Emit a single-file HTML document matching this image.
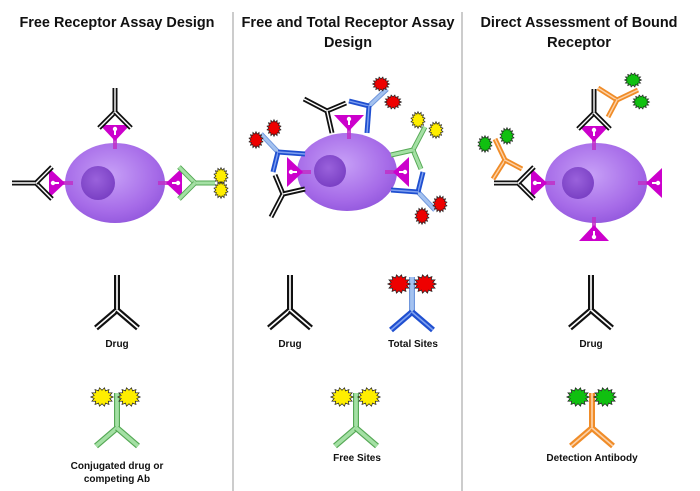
<!DOCTYPE html>
<html><head><meta charset="utf-8"><style>
html,body{margin:0;padding:0;background:#fff;}
svg{display:block;}
text{font-family:"Liberation Sans",sans-serif;font-weight:bold;fill:#111;}
</style></head><body>
<svg id="s" width="700" height="491" viewBox="0 0 700 491" xmlns="http://www.w3.org/2000/svg">
<defs>
<radialGradient id="cell" cx="45%" cy="40%" r="65%">
<stop offset="0" stop-color="#c7a0f7"/><stop offset="0.7" stop-color="#a66be8"/><stop offset="1" stop-color="#9156dc"/>
</radialGradient>
<radialGradient id="nuc" cx="45%" cy="40%" r="60%">
<stop offset="0" stop-color="#9a62dc"/><stop offset="1" stop-color="#7a40c4"/>
</radialGradient>
</defs>
<line x1="233" y1="12" x2="233" y2="491" stroke="#aaa" stroke-width="1.2"/>
<line x1="462" y1="12" x2="462" y2="491" stroke="#aaa" stroke-width="1.2"/>
<text x="117" y="27" font-size="14.5" text-anchor="middle" textLength="195" lengthAdjust="spacingAndGlyphs">Free Receptor Assay Design</text>
<text x="348" y="27" font-size="14.5" text-anchor="middle" textLength="213" lengthAdjust="spacingAndGlyphs">Free and Total Receptor Assay</text>
<text x="348" y="47" font-size="14.5" text-anchor="middle" textLength="48" lengthAdjust="spacingAndGlyphs">Design</text>
<text x="579" y="27" font-size="14.5" text-anchor="middle" textLength="197" lengthAdjust="spacingAndGlyphs">Direct Assessment of Bound</text>
<text x="579" y="47" font-size="14.5" text-anchor="middle" textLength="64" lengthAdjust="spacingAndGlyphs">Receptor</text>

<ellipse cx="115" cy="183" rx="50" ry="40" fill="url(#cell)"/>
<circle cx="98" cy="183" r="17" fill="url(#nuc)"/>
<ellipse cx="347" cy="172" rx="50" ry="39" fill="url(#cell)"/>
<circle cx="330" cy="171" r="16" fill="url(#nuc)"/>
<ellipse cx="596" cy="183" rx="51" ry="40" fill="url(#cell)"/>
<circle cx="578" cy="183" r="16" fill="url(#nuc)"/>

<g id="dyn"></g>

<text x="117" y="347" font-size="10" text-anchor="middle">Drug</text>
<text x="117" y="469" font-size="10" text-anchor="middle">Conjugated drug or</text>
<text x="117" y="482" font-size="10" text-anchor="middle">competing Ab</text>
<text x="290" y="347" font-size="10" text-anchor="middle">Drug</text>
<text x="413" y="347" font-size="10" text-anchor="middle">Total Sites</text>
<text x="357" y="461" font-size="10" text-anchor="middle">Free Sites</text>
<text x="591" y="347" font-size="10" text-anchor="middle">Drug</text>
<text x="592" y="461" font-size="10" text-anchor="middle">Detection Antibody</text>
</svg>
<script>
var NS="http://www.w3.org/2000/svg";
var root=document.getElementById('dyn');
function el(p,t,a){var e=document.createElementNS(NS,t);for(var k in a)e.setAttribute(k,a[k]);p.appendChild(e);return e;}
function grp(tr){return el(root,'g',{transform:tr});}
function ln(g,a,b,c,w){el(g,'line',{x1:a[0],y1:a[1],x2:b[0],y2:b[1],stroke:c,'stroke-width':w,'stroke-linecap':'butt'});}
function dbl(g,a,b,col,w,inner){ln(g,a,b,col,w);ln(g,a,b,inner||'#fff',w*0.28);}
function light(g,a,b,dark,lt,w){ln(g,a,b,dark,w);ln(g,a,b,lt,w*0.62);}
function seg(g,a,b,type,part,w){
  if(type=='k') dbl(g,a,b,'#111',w);
  else if(type=='o') dbl(g,a,b,'#f08c28',w,'#fcd2a8');
  else if(type=='g') light(g,a,b,'#55a855','#a4e0a4',w);
  else if(type=='b'){ if(part=='arm') dbl(g,a,b,'#1f4fd0',w,'#7fa0f0'); else light(g,a,b,'#6f96dc','#a4c2f0',w);}
}
function star(g,x,y,r,col){
  var pts=[],n=14;
  for(var i=0;i<2*n;i++){var rr=(i%2?r:r*1.4),an=Math.PI*i/n;pts.push((x+rr*Math.cos(an))+','+(y+rr*0.85*Math.sin(an)));}
  el(g,'polygon',{points:pts.join(' '),fill:col,stroke:'#222','stroke-width':0.7});
}
function ab(g,F,S,A1,A2,type,w,stars){
  seg(g,F,S,type,'stem',w);seg(g,F,A1,type,'arm',w);seg(g,F,A2,type,'arm',w);
  if(stars){var sc=type=='b'?'#e00':(type=='o'?'#10c010':'#ffee00');
    for(var i=0;i<stars.length;i++)star(g,stars[i][0],stars[i][1],stars[i][2]||6,sc);}
}
function receptor(g){
  el(g,'rect',{x:-2,y:10,width:4,height:13,fill:'#c030c8',opacity:0.85});
  el(g,'polygon',{points:'-15,-1 15,-1 0,15',fill:'#cc00cc'});
  el(g,'circle',{cx:0,cy:3,r:2.2,fill:'#fff'});
  el(g,'rect',{x:-1,y:3,width:2,height:6,fill:'#fff'});
}
function drugUnit(tr){var g=grp(tr);receptor(g);ab(g,[0,-14],[0,-38],[-16,2],[16,2],'k',5);return g;}
function greenUnit(tr){var g=grp(tr);receptor(g);ab(g,[0,-14],[0,-34],[-16,2],[16,2],'g',5,[[-7,-40,6],[7,-40,6]]);return g;}
drugUnit('translate(115,126)');
drugUnit('translate(50,183) rotate(-90)');
greenUnit('translate(181,183) rotate(90)');
function sand(tr,left){
  var g=grp(tr);receptor(g);
  ab(g,[-22,-5],[-45,-17],[-3,-13],[-17,17],left,5,left=='g'?[[-42,-28,6],[-52,-10,6]]:null);
  ab(g,[20,-10],[38,-27],[0,-15],[18,17],'b',5,[[32,-32,6],[44,-14,6]]);
}
sand('translate(349,116)','k');
sand('translate(288,172) rotate(-90)','k');
sand('translate(408,172) rotate(90)','g');
function boundUnit(tr){
  var g=grp(tr);receptor(g);
  ab(g,[0,-14],[0,-38],[-16,2],[16,2],'k',5);
  ab(g,[23,-27],[44,-37],[4,-39],[14,-10],'o',5,[[39,-47,6],[47,-25,6]]);
}
boundUnit('translate(594,127)');
boundUnit('translate(532,183) rotate(-90)');
(function(){var g=grp('translate(661,183) rotate(90)');receptor(g);})();
(function(){var g=grp('translate(594,240) rotate(180)');receptor(g);})();
function leg(x,fy,type,stars){var g=grp('translate('+x+','+fy+')');
  ab(g,[0,0],[0,-35],[-21,18],[21,18],type,6,stars);}
leg(117,310,'k');
leg(290,310,'k');
leg(591,310,'k');
leg(412,312,'b',[[-13,-28,8],[13,-28,8]]);
leg(117,428,'g',[[-15,-31,8],[12,-31,8]]);
leg(356,428,'g',[[-14,-31,8],[13,-31,8]]);
leg(592,428,'o',[[-14,-31,8],[13,-31,8]]);
</script>
</body></html>
